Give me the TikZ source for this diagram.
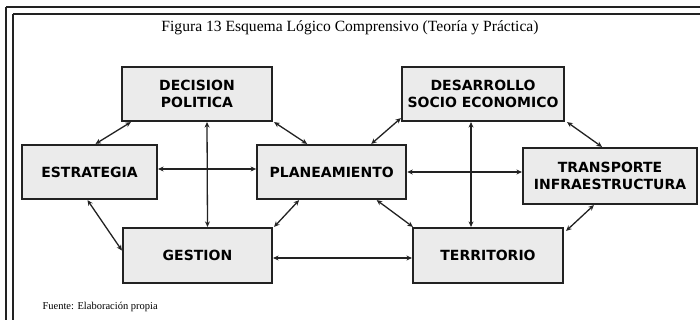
\documentclass[tikz,border=0pt]{standalone}
\usepackage{fontspec}
\setmainfont{Liberation Serif}
\newfontfamily\boxfont{DejaVu Sans}
\usepackage{xcolor}
\usetikzlibrary{positioning,calc,arrows.meta}
\definecolor{boxgray}{HTML}{EBEBEB}
\definecolor{framegray}{HTML}{222222}

\tikzset{
    bloque/.style={draw=framegray, fill=boxgray, line width=2.2pt, align=center,
        inner sep=2pt, font=\boxfont\bfseries\fontsize{14}{17.5}\selectfont},
    enlace/.style={{Stealth[length=5.5pt,width=5pt]}-{Stealth[length=5.5pt,width=5pt]},
        line width=1.3pt, draw=framegray}
}

\begin{document}
\begin{tikzpicture}[x=1pt, y=-1pt, node distance=1cm]
    \useasboundingbox (0,0) rectangle (700,320);
    % double frame
    \draw[framegray, line width=1.4pt] (6,7) -- (712,7);
    \draw[framegray, line width=1.4pt] (6,7) -- (6,330);
    \draw[framegray, line width=1.8pt] (13,14) -- (712,14);
    \draw[framegray, line width=1.8pt] (13,14) -- (13,330);

    \node (titulo) at (350,28) {\fontsize{15.6}{18}\selectfont Figura 13 Esquema Lógico Comprensivo (Teoría y Práctica)};
    \node[anchor=west] (fuente) at (39,307) {\fontsize{10.5}{12}\selectfont Fuente: Elaboración propia};

    \node[bloque, minimum width=150pt, minimum height=54pt] (dec) at (197,94) {DECISION\\POLITICA};
    \node[bloque, minimum width=162pt, minimum height=54pt] (des) at (483,94) {DESARROLLO\\SOCIO ECONOMICO};
    \node[bloque, minimum width=135pt, minimum height=54pt] (est) at (89.5,172) {ESTRATEGIA};
    \node[bloque, minimum width=149pt, minimum height=54pt, right=98pt of est] (plan) {PLANEAMIENTO};
    \node[bloque, minimum width=174pt, minimum height=56pt] (trans) at (610,176) {TRANSPORTE\\INFRAESTRUCTURA};
    \node[bloque, minimum width=149pt, minimum height=55pt] (ges) at (197.5,255.5) {GESTION};
    \node[bloque, minimum width=150pt, minimum height=55pt] (ter) at (488,255.5) {TERRITORIO};

    % left half
    \draw[enlace] ($(dec.south west)+(10,0)$) -- ($(est.north)+(6,0)$);
    \draw[enlace] ($(dec.south east)+(1,0)$) -- ($(plan.north west)+(51,0)$);
    \draw[enlace] ($(dec.south)+(10,0)$) -- ($(ges.north)+(10,0)$);
    \draw[enlace] ([yshift=3pt]est.east) -- ([yshift=3pt]plan.west);
    \draw[enlace] ($(est.south)+(-2,0)$) -- ($(ges.west)+(0,-5)$);
    \draw[enlace] ($(plan.south west)+(43,0)$) -- ($(ges.north east)+(1,0)$);
    \draw[enlace] ([yshift=-2.5pt]ges.east) -- ([yshift=-2.5pt]ter.west);

    % right half
    \draw[enlace] ($(plan.north east)+(-36,0)$) -- ($(des.south west)+(0,-4)$);
    \draw[enlace] ($(des.south)+(-12,0)$) -- ($(ter.north)+(-17,0)$);
    \draw[enlace] (plan.east) -- (plan.east -| trans.west);
    \draw[enlace] ($(des.south east)+(2,0)$) -- ($(trans.north)+(-8,0)$);
    \draw[enlace] ($(plan.south)+(45,0)$) -- ($(ter.north west)+(1,0)$);
    \draw[enlace] ($(trans.south west)+(72,0)$) -- ($(ter.north east)+(2,4)$);
\end{tikzpicture}
\end{document}
